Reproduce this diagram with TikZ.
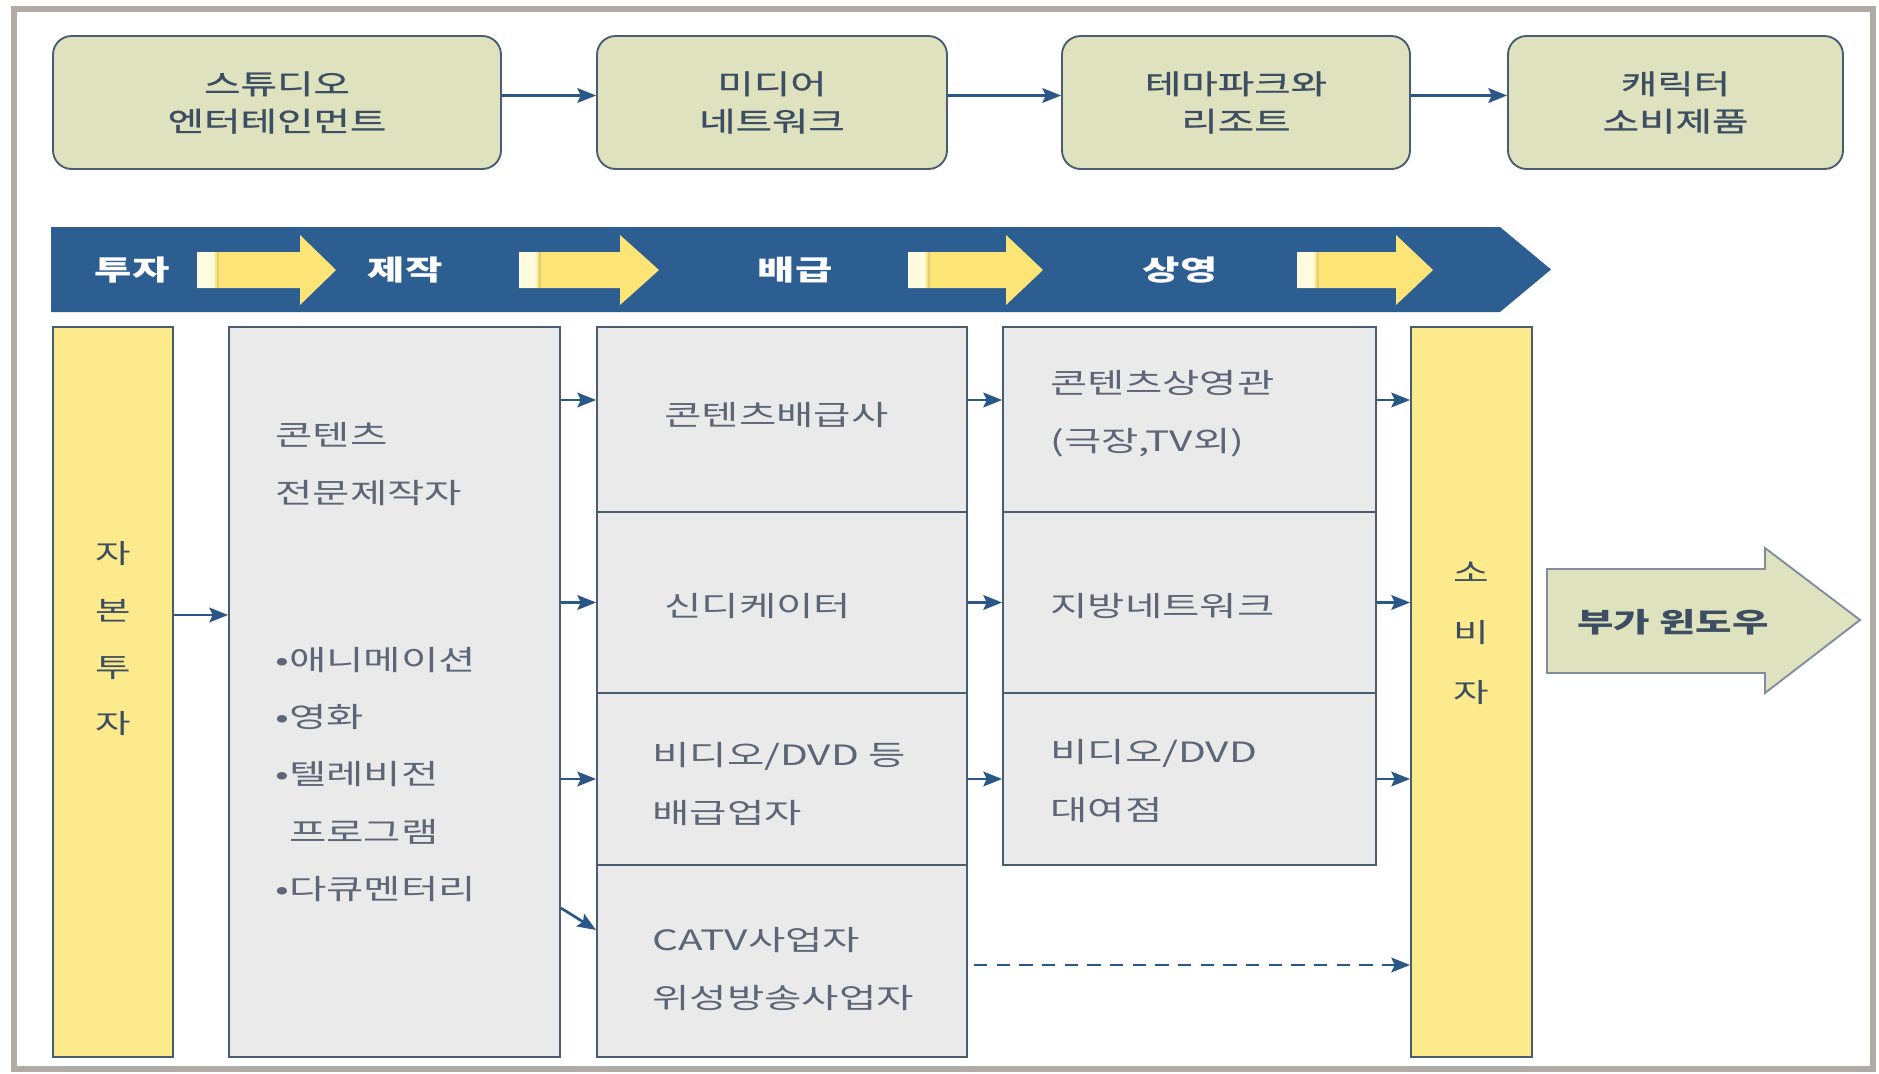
\documentclass[tikz,border=0pt]{standalone}
\usepackage{fontspec}
\newfontfamily\krfont[FakeStretch=1.45]{Noto Sans CJK KR}
\newfontfamily\krtop[FakeStretch=1.45,FakeBold=0.8]{Noto Sans CJK KR}
\usepackage{tikz}
\usetikzlibrary{calc}
\usetikzlibrary{arrows.meta}

\definecolor{framegray}{RGB}{176,171,167}
\definecolor{olivebox}{RGB}{222,226,190}
\definecolor{boxline}{RGB}{72,92,114}
\definecolor{barblue}{RGB}{44,94,146}
\definecolor{arrowyellow}{RGB}{253,228,118}
\definecolor{paleyellow}{RGB}{255,251,222}
\definecolor{stripline}{RGB}{226,205,120}
\definecolor{colyellow}{RGB}{253,234,140}
\definecolor{boxgray}{RGB}{234,234,234}
\definecolor{toptxt}{RGB}{62,78,98}
\definecolor{coltxt}{RGB}{92,102,118}
\definecolor{arrowblue}{RGB}{42,86,136}

\begin{document}
\begin{tikzpicture}[x=0.75pt,y=0.75pt,yscale=-1,
    topbox/.style={draw=boxline, line width=1.4pt, fill=olivebox, rounded corners=14pt,
        minimum height=99.75pt, inner sep=0pt, align=center, text=toptxt,
        font=\krtop\fontsize{20.5}{28}\selectfont},
    barlabel/.style={text=white, inner sep=0pt, font=\krfont\bfseries\fontsize{21}{26}\selectfont},
    colbox/.style={draw=boxline, line width=1.4pt, fill=boxgray, inner sep=0pt},
    ycolbox/.style={draw=boxline, line width=1.4pt, fill=colyellow, inner sep=0pt,
        minimum height=547.5pt},
    coltext/.style={text=coltxt, inner sep=0pt, align=left,
        font=\krfont\fontsize{21}{43}\selectfont},
    vtext/.style={text=toptxt, inner sep=0pt, align=center},
    conn/.style={draw=arrowblue, line width=2pt, -{Stealth[length=14pt,width=11pt,inset=2.5pt]}},
    dashconn/.style={conn, dash pattern=on 10pt off 7pt}
]
\useasboundingbox (0,0) rectangle (1879,1074);

%Shape: Frame
\draw[framegray, line width=4.5pt, fill=white] (14,9) rectangle (1873,1069);

% top row
\node[topbox, minimum width=336pt] (studio) at (277,102.5) {스튜디오\\엔터테인먼트};
\node[topbox, minimum width=262.5pt] (media) at (772,102.5) {미디어\\네트워크};
\node[topbox, minimum width=261pt] (themepark) at (1236,102.5) {테마파크와\\리조트};
\node[topbox, minimum width=251.25pt] (character) at (1675.5,102.5) {캐릭터\\소비제품};

\draw[conn] ($(studio.east)+(0,-7)$) -- ($(media.west)+(0,-7)$);
\draw[conn] ($(media.east)+(0,-7)$) -- ($(themepark.west)+(0,-7)$);
\draw[conn] ($(themepark.east)+(0,-7)$) -- ($(character.west)+(0,-7)$);

%Shape: Value chain bar
\fill[barblue] (51,227) -- (1500,227) -- (1551,269.5) -- (1500,312) -- (51,312) -- cycle;
\foreach \s/\b/\t in {197/300/336, 519/620/659, 908/1006/1043, 1297/1396/1433} {
    \fill[arrowyellow] (\s,252) -- (\b,252) -- (\b,235) -- (\t,270) -- (\b,305) -- (\b,288) -- (\s,288) -- cycle;
    \fill[paleyellow] (\s,252) rectangle (\s+18,288);
    \draw[stripline, line width=1.2pt] (\s+21,252) -- (\s+21,288);
}

% Text Node
\node[barlabel] (invest) at (132,270) {투자};
\node[barlabel] (produce) at (405,270) {제작};
\node[barlabel] (distrib) at (795,270) {배급};
\node[barlabel] (screen) at (1180,270) {상영};

% columns
\node[ycolbox, minimum width=90pt] (capital) at (113,692) {};
\node[colbox, minimum width=248.25pt, minimum height=547.5pt] (prod) at (394.5,692) {};

\node[colbox, minimum width=277.5pt, minimum height=138.75pt] (dist1) at (782,419.5) {};
\node[colbox, minimum width=277.5pt, minimum height=135.75pt] (dist2) at (782,602.5) {};
\node[colbox, minimum width=277.5pt, minimum height=129pt] (dist3) at (782,779) {};
\node[colbox, minimum width=277.5pt, minimum height=144pt] (dist4) at (782,961) {};

\node[colbox, minimum width=279.75pt, minimum height=138.75pt] (show1) at (1189.5,419.5) {};
\node[colbox, minimum width=279.75pt, minimum height=135.75pt] (show2) at (1189.5,602.5) {};
\node[colbox, minimum width=279.75pt, minimum height=129pt] (show3) at (1189.5,779) {};

\node[ycolbox, minimum width=90.75pt] (consumer) at (1471.5,692) {};

% Text Node
\node[vtext, font=\krfont\fontsize{20}{42.5}\selectfont] (capitaltxt) at (113,639) {자\\본\\투\\자};
\node[vtext, font=\krfont\fontsize{20}{45}\selectfont] (consumertxt) at (1471.5,633) {소\\비\\자};

\node[coltext, anchor=west] (prodhead) at ($(prod.west |- 0,464)+(47,0)$) {콘텐츠\\전문제작자};
\node[coltext, anchor=west] (prodlist) at ($(prod.west |- 0,774.5)+(47,0)$)
    {•애니메이션\\•영화\\•텔레비전\\\phantom{•}프로그램\\•다큐멘터리};

\node[coltext, anchor=west] (dist1txt) at ($(dist1.west)+(68,-4)$) {콘텐츠배급사};
\node[coltext, anchor=west] (dist2txt) at ($(dist2.west)+(68,4)$) {신디케이터};
\node[coltext, anchor=west] (dist3txt) at ($(dist3.west)+(56,5)$) {비디오/DVD 등\\배급업자};
\node[coltext, anchor=west] (dist4txt) at ($(dist4.west)+(56,8)$) {CATV사업자\\위성방송사업자};

\node[coltext, anchor=west] (show1txt) at ($(show1.west)+(48,-6)$) {콘텐츠상영관\\(극장,TV외)};
\node[coltext, anchor=west] (show2txt) at ($(show2.west)+(48,4)$) {지방네트워크};
\node[coltext, anchor=west] (show3txt) at ($(show3.west)+(48,2)$) {비디오/DVD\\대여점};

% connectors
\coordinate (capout) at ($(capital.east)+(0,-77)$);
\draw[conn] (capout) -- (capout -| prod.west);

\coordinate (d1in) at ($(dist1.west)+(0,-19.5)$);
\draw[conn] (prod.east |- d1in) -- (d1in);
\draw[conn] (prod.east |- dist2.west) -- (dist2.west);
\draw[conn] (prod.east |- dist3.west) -- (dist3.west);
\coordinate (d4from) at ($(prod.east |- dist4.west)+(0,-53)$);
\coordinate (d4in) at ($(dist4.west)+(0,-31)$);
\draw[conn] (d4from) -- (d4in);

\coordinate (s1in) at ($(show1.west)+(0,-19.5)$);
\draw[conn] (dist1.east |- s1in) -- (s1in);
\draw[conn] (dist2.east) -- (show2.west);
\draw[conn] (dist3.east) -- (show3.west);

\draw[conn] (show1.east |- s1in) -- (consumer.west |- s1in);
\draw[conn] (show2.east) -- (consumer.west |- show2.east);
\draw[conn] (show3.east) -- (consumer.west |- show3.east);
\draw[dashconn] ($(dist4.east)+(6,4)$) -- (consumer.west |- 0,965);

%Shape: Window arrow
\draw[draw=boxline!70, line width=1.4pt, fill=olivebox]
    (1547,569) -- (1765,569) -- (1765,548) -- (1860,620) -- (1765,693) -- (1765,673) -- (1547,673) -- cycle;
% Text Node
\node[text=toptxt, inner sep=0pt, font=\krfont\bfseries\fontsize{20.5}{24}\selectfont] (window) at (1673,622) {부가 윈도우};

\end{tikzpicture}
\end{document}
